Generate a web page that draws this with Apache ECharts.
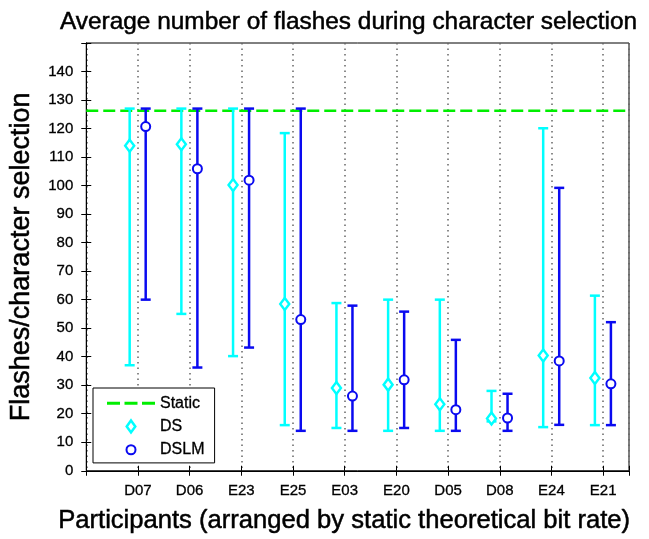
<!DOCTYPE html>
<html>
<head>
<meta charset="utf-8">
<script src="https://cdn.jsdelivr.net/npm/echarts@6/dist/echarts.min.js"></script>
<style>
  html, body { margin: 0; padding: 0; background: #fff; }
  #chart { width: 649px; height: 539px; }
</style>
</head>
<body>
<div id="chart"></div>
<script>
// Participants, in order of static theoretical bit rate
const categories = ['D07', 'D06', 'E23', 'E25', 'E03', 'E20', 'D05', 'D08', 'E24', 'E21'];

// DS: mean and range of flashes per character selection
const dsMean = [114, 114.5, 100.2, 58.5, 29, 30.2, 23.3, 18.3, 40.4, 32.5];
const dsLow  = [37, 55, 40.2, 16, 15, 14, 14, 17.3, 15.3, 16];
const dsHigh = [127, 127, 127, 118.4, 58.8, 60, 60, 28, 120.1, 61.4];

// DSLM: mean and range of flashes per character selection
const dslmMean = [120.7, 105.9, 101.9, 53, 26.2, 31.9, 21.4, 18.5, 38.5, 30.5];
const dslmLow  = [60, 36.2, 43.2, 14, 14, 15, 14, 14, 16.1, 16];
const dslmHigh = [127, 127, 127, 127, 57.9, 55.8, 45.9, 27, 99.2, 52.1];

// Static stopping: fixed number of flashes
const staticLevel = 126.2;

const FONT = 'Liberation Sans';
const CYAN = '#00ffff';
const BLUE = '#0a0af0';
const GREEN = '#00ee00';

// slightly heavier strokes for the large labels
const heavy = { textBorderColor: '#000', textBorderWidth: 0.5 };

function errorBars(mean, low, high, shift) {
  return categories.map((c, i) => [i + 1 + shift, low[i], high[i], mean[i]]);
}

function barRenderer(color) {
  return function (params, api) {
    const x = api.value(0);
    const lo = api.coord([x, api.value(1)]);
    const hi = api.coord([x, api.value(2)]);
    const hw = 5;
    const style = { stroke: color, lineWidth: 2.5 };
    return {
      type: 'group',
      children: [
        { type: 'line', shape: { x1: lo[0], y1: lo[1], x2: hi[0], y2: hi[1] }, style },
        { type: 'line', shape: { x1: lo[0] - hw, y1: lo[1], x2: lo[0] + hw, y2: lo[1] }, style },
        { type: 'line', shape: { x1: hi[0] - hw, y1: hi[1], x2: hi[0] + hw, y2: hi[1] }, style }
      ]
    };
  };
}

const DS_SHIFT = -0.16;
const DSLM_SHIFT = 0.15;

const chart = echarts.init(document.getElementById('chart'), null, { renderer: 'canvas' });

const xCommon = { type: 'value', min: 0, max: 10.5, interval: 1 };
const yCommon = { type: 'value', min: 0, max: 150, interval: 10 };

chart.setOption({
  animation: false,
  backgroundColor: '#fff',
  textStyle: { fontFamily: FONT },
  title: {
    text: 'Average number of flashes during character selection',
    left: 55, top: 5,
    textStyle: Object.assign({ fontFamily: FONT, fontSize: 24.4, fontWeight: 'normal', color: '#000' }, heavy)
  },
  grid: {
    left: 86, right: 20, top: 43, bottom: 68,
    show: true, borderColor: '#000', borderWidth: 1, backgroundColor: 'transparent'
  },
  legend: {
    orient: 'vertical',
    left: 93, top: 388,
    backgroundColor: '#fff',
    borderColor: '#000', borderWidth: 1,
    padding: [7, 10, 5, 14],
    itemGap: 7,
    itemWidth: 48, itemHeight: 12,
    symbolKeepAspect: true,
    textStyle: { fontFamily: FONT, fontSize: 16, color: '#000', textBorderColor: '#000', textBorderWidth: 0.3 },
    data: [
      { name: 'Static', icon: 'path://M0,0h13v3h-13z M17.5,0h13v3h-13z M35,0h13v3h-13z',
        itemStyle: { color: GREEN, borderWidth: 0 } },
      { name: 'DS', icon: 'path://M4.3,0L8.6,6L4.3,12L0,6Z',
        itemStyle: { color: '#fff', borderColor: CYAN, borderWidth: 2.5 } },
      { name: 'DSLM', icon: 'path://M0,0L0,0M12,12L12,12M6,1.5A4.5,4.5 0 1,1 6,10.5A4.5,4.5 0 1,1 6,1.5Z',
        itemStyle: { color: '#fff', borderColor: BLUE, borderWidth: 2 } }
    ]
  },
  xAxis: [
    Object.assign({}, xCommon, {
      position: 'bottom',
      name: 'Participants (arranged by static theoretical bit rate)',
      nameLocation: 'middle', nameGap: 37,
      nameTextStyle: Object.assign({ fontFamily: FONT, fontSize: 25.6, fontWeight: 'normal', color: '#000', padding: [0, 27, 0, 0] }, heavy),
      axisLine: { show: true, lineStyle: { color: '#000', width: 1 } },
      axisTick: { show: true, inside: true, length: 5, lineStyle: { color: '#000' } },
      axisLabel: {
        margin: 13, fontSize: 15, color: '#000', fontFamily: FONT,
        textBorderColor: '#000', textBorderWidth: 0.3,
        formatter: v => (Number.isInteger(v) && v >= 1 && v <= categories.length) ? categories[v - 1] : ''
      },
      splitLine: { show: true, lineStyle: { color: '#666', type: [1.5, 4], width: 1.5 } }
    }),
    Object.assign({}, xCommon, {
      position: 'top',
      axisLine: { show: true, lineStyle: { color: '#000', width: 1 } },
      axisTick: { show: true, inside: true, length: 5, lineStyle: { color: '#000' } },
      axisLabel: { show: false },
      splitLine: { show: false }
    })
  ],
  yAxis: [
    Object.assign({}, yCommon, {
      position: 'left',
      name: 'Flashes/character selection',
      nameLocation: 'middle', nameGap: 51,
      nameTextStyle: Object.assign({ fontFamily: FONT, fontSize: 27, fontWeight: 'normal', color: '#000' }, heavy),
      axisLine: { show: true, lineStyle: { color: '#000', width: 1 } },
      axisTick: { show: true, inside: true, length: 5, lineStyle: { color: '#000' } },
      axisLabel: {
        margin: 13, fontSize: 15, color: '#000', fontFamily: FONT,
        textBorderColor: '#000', textBorderWidth: 0.3,
        formatter: v => (v <= 140 ? String(v) : '')
      },
      splitLine: { show: false }
    }),
    Object.assign({}, yCommon, {
      position: 'right',
      axisLine: { show: true, lineStyle: { color: '#000', width: 1 } },
      axisTick: { show: true, inside: true, length: 5, lineStyle: { color: '#000' } },
      axisLabel: { show: false },
      splitLine: { show: false }
    })
  ],
  series: [
    {
      name: 'Static', type: 'line', z: 2,
      data: [[0, staticLevel], [10.5, staticLevel]],
      symbol: 'none',
      lineStyle: { color: GREEN, width: 2.5, type: [12, 5] },
      itemStyle: { color: GREEN }
    },
    {
      name: 'DS', type: 'custom', z: 3,
      renderItem: barRenderer(CYAN),
      data: errorBars(dsMean, dsLow, dsHigh, DS_SHIFT),
      encode: { x: 0, y: [1, 2] },
      itemStyle: { color: CYAN }
    },
    {
      name: 'DSLM', type: 'custom', z: 3,
      renderItem: barRenderer(BLUE),
      data: errorBars(dslmMean, dslmLow, dslmHigh, DSLM_SHIFT),
      encode: { x: 0, y: [1, 2] },
      itemStyle: { color: BLUE }
    },
    {
      name: 'DS', type: 'scatter', z: 4,
      data: dsMean.map((v, i) => [i + 1 + DS_SHIFT, v]),
      symbol: 'diamond', symbolSize: [9, 12],
      itemStyle: { color: '#fff', borderColor: CYAN, borderWidth: 2.5, opacity: 1 }
    },
    {
      name: 'DSLM', type: 'scatter', z: 4,
      data: dslmMean.map((v, i) => [i + 1 + DSLM_SHIFT, v]),
      symbol: 'circle', symbolSize: 9,
      itemStyle: { color: '#fff', borderColor: BLUE, borderWidth: 2, opacity: 1 }
    }
  ]
});
</script>
</body>
</html>
